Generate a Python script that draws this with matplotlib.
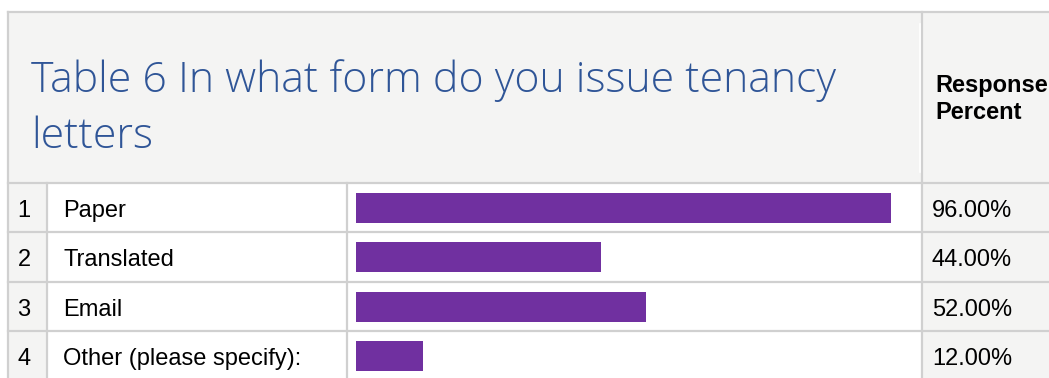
import matplotlib.pyplot as plt
from matplotlib.patches import Rectangle

# data
title_lines = ["Table 6 In what form do you issue tenancy", "letters"]
header_lines = ["Response", "Percent"]
row_numbers = ["1", "2", "3", "4"]
options = ["Paper", "Translated", "Email", "Other (please specify):"]
percents = [96.00, 44.00, 52.00, 12.00]

W, H = 1049, 378
grid = "#d0d0d0"
shade = "#f4f4f3"
purple = "#7030a0"

fig = plt.figure(figsize=(W / 100, H / 100), dpi=100)
ax = fig.add_axes([0, 0, 1, 1])
ax.set_xlim(0, W)
ax.set_ylim(H, 0)
ax.axis("off")

# table geometry (pixels)
left, top = 8, 12
head_bottom = 183
row_h = 49.4
col_num, col_lab, col_bar = 47, 347, 922

# header band
ax.add_patch(Rectangle((left, top), W - left, head_bottom - top, facecolor=shade, edgecolor="none"))
# shaded columns in body
ax.add_patch(Rectangle((left, head_bottom), col_num - left, H, facecolor=shade, edgecolor="none"))
ax.add_patch(Rectangle((col_bar, head_bottom), W - col_bar, H, facecolor=shade, edgecolor="none"))

lw = 1.6
ax.plot([left, W], [top, top], color=grid, lw=lw)
ax.plot([left, left], [top, H], color=grid, lw=lw)
ax.plot([col_bar, col_bar], [top, H], color=grid, lw=lw)
ax.plot([col_bar - 2, col_bar - 2], [top + 12, head_bottom - 11], color="white", lw=1.2)
for x in (col_num, col_lab):
    ax.plot([x, x], [head_bottom, H], color=grid, lw=lw)
for i in range(len(options) + 1):
    y = head_bottom + i * row_h
    ax.plot([left, W], [y, y], color=grid, lw=lw)

# header texts, one line at a time
for line, yb in zip(title_lines, (92, 148)):
    ax.text(31, yb, line, color="#2f5597", fontsize=30.9, family="Open Sans",
            fontweight="light", va="baseline")
for line, yb in zip(header_lines, (92, 119)):
    ax.text(935, yb, line, color="black", fontsize=17, family="Liberation Sans",
            fontweight="bold", va="baseline")

# row texts
fs = 17
for i, (n, lab, p) in enumerate(zip(row_numbers, options, percents)):
    yb = head_bottom + i * row_h + 34
    ax.text(24, yb, n, fontsize=fs, family="Liberation Sans", ha="center", va="baseline")
    ax.text(63, yb, lab, fontsize=fs, family="Liberation Sans", va="baseline")
    ax.text(932, yb, f"{p:.2f}%", fontsize=fs, family="Liberation Sans", va="baseline")

# bars on their own axes: x in percent, y in rows
bx0, bx1 = 356, 356 + 557
by0 = head_bottom
by1 = head_bottom + len(options) * row_h
bax = fig.add_axes([bx0 / W, 1 - by1 / H, (bx1 - bx0) / W, (by1 - by0) / H])
bax.set_xlim(0, 100)
bax.set_ylim(len(options), 0)
bax.axis("off")
bax.patch.set_alpha(0)
bax.barh([i + 0.5 for i in range(len(options))], percents, height=30 / row_h,
         color=purple, left=0)

fig.savefig("out.png", dpi=100)
